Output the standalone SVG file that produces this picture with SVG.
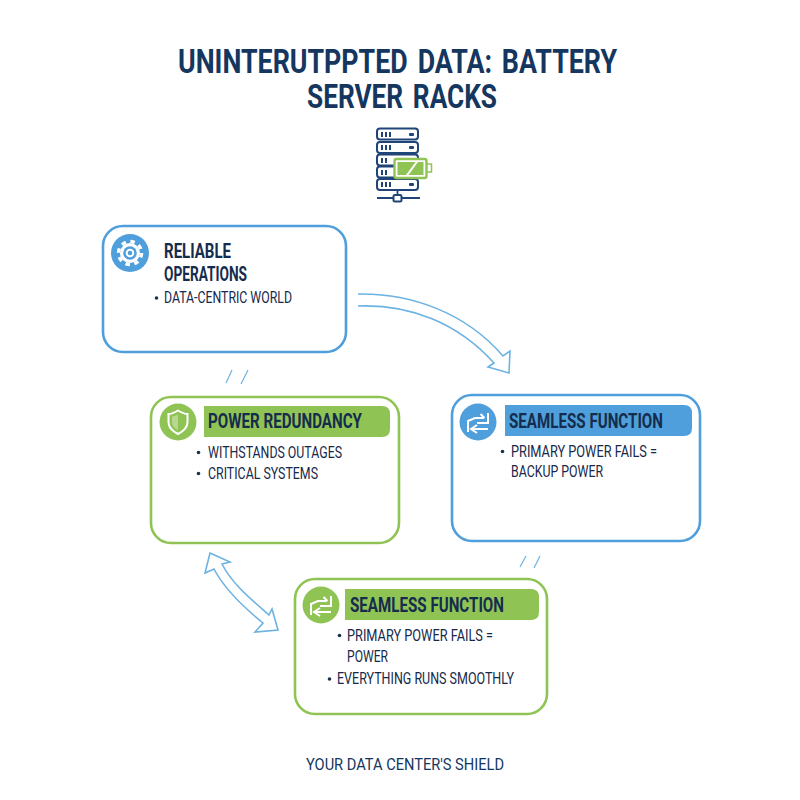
<svg xmlns="http://www.w3.org/2000/svg" width="800" height="800" viewBox="0 0 800 800">
<style>
text{font-family:"Roboto","Liberation Sans",sans-serif;fill:#1c2f4b}
.title{font-size:33px;font-weight:700;fill:#14365f;word-spacing:4px}
.head{font-size:19.500px;font-weight:700;fill:#152c4c}
.body{font-size:16.500px;font-weight:400;fill:#16294a}
.foot{font-size:16.500px;font-weight:400;fill:#14365f}
.card{fill:#fff;stroke-width:2.6}
.blue{stroke:#4f9fdc}
.green{stroke:#8fc455}
.fb{fill:#4f9fdc}
.fg{fill:#8fc455}
.ic{fill:none;stroke:#fff;stroke-width:2}
.arrow{fill:#fff;stroke:#6cb2e2;stroke-width:1.6}
.tick{fill:none;stroke:#6cb2e2;stroke-width:1.2}
.r{fill:#fff;stroke:#1f4478;stroke-width:2}
.d{fill:#1f4478}
.bullet{fill:#1c2f4b}
</style>
<defs>
<path id="swap" class="ic" d="M-10 10V-1L-3 -4H6M2.500 -8L6.500 -4M10 -9V1H-1M10 7H-6M-1 3L-7 7L-1 11"/>
</defs>
<rect width="800" height="800" fill="#fff"/>
<g id="title">
<text class="title" x="178" y="73" textLength="439" lengthAdjust="spacingAndGlyphs">UNINTERUTPPTED DATA: BATTERY</text>
<text class="title" x="307" y="108" textLength="190" lengthAdjust="spacingAndGlyphs">SERVER RACKS</text>
</g>
<g id="rack-icon">
<rect class="r" x="377" y="128.500" width="41" height="11" rx="3"/>
<rect class="r" x="377" y="142" width="41" height="11" rx="3"/>
<rect class="r" x="377" y="154.500" width="41" height="11" rx="3"/>
<rect class="r" x="377" y="166.500" width="41" height="11" rx="3"/>
<rect class="r" x="377" y="179" width="41" height="11" rx="3"/>
<g class="d">
<rect x="381" y="132" width="2" height="5"/><rect x="385" y="132" width="2" height="5"/><rect x="389" y="132" width="2" height="5"/><rect x="409" y="133" width="5" height="3" rx="1"/>
<rect x="381" y="145" width="2" height="5"/><rect x="385" y="145" width="2" height="5"/><rect x="389" y="145" width="2" height="5"/><rect x="409" y="146" width="5" height="3" rx="1"/>
<rect x="381" y="158" width="2" height="5"/><rect x="385" y="158" width="2" height="5"/>
<rect x="381" y="170" width="2" height="5"/><rect x="385" y="170" width="2" height="5"/>
<rect x="381" y="182" width="2" height="5"/><rect x="385" y="182" width="2" height="5"/><rect x="389" y="182" width="2" height="5"/><rect x="409" y="183" width="5" height="3" rx="1"/>
</g>
<path d="M397.500 190V195M377 198H420" fill="none" stroke="#1f4478" stroke-width="1.800"/>
<rect class="r" x="393.500" y="195" width="8" height="6.500" rx="1.500" stroke-width="1.600"/>
<rect x="394.500" y="159" width="32" height="19" rx="2" fill="#fff" stroke="#8fc455" stroke-width="2.400"/>
<rect x="427" y="164" width="4.500" height="8" fill="#fff" stroke="#8fc455" stroke-width="1.500"/>
<path d="M397.500 162H415.500L406 175H397.500ZM418 162H423.500V175H408.500Z" fill="#8fc455"/>
</g>
<g id="connectors">
<path class="arrow" d="M358 294C410 293 465 312 503 356L510 351L509 373L488 367L494 363C458 323 410 304 358 306"/>
<path class="arrow" d="M210 553L230 562L222 564C232 584 252 600 269 615L272 609L278 630L255 632L263 623C242 606 224 588 214 569L205 573Z"/>
<path class="tick" d="M226 383L232 370M241 384L248 370M520 567L526 556M534 568L540 556"/>
</g>
<g id="node-reliable">
<rect class="card blue" x="103" y="226" width="243" height="126" rx="20"/>
<circle class="fb" cx="130" cy="253" r="19"/>
<circle cx="130" cy="253" r="11.500" fill="none" stroke="#fff" stroke-width="3.500" stroke-dasharray="4.500 4.530"/>
<circle cx="130" cy="253" r="10" fill="#fff"/>
<circle cx="130" cy="253" r="6.800" class="fb"/>
<circle cx="130" cy="253" r="4.300" fill="#fff"/>
<circle cx="130" cy="253" r="2.300" class="fb"/>
<text class="head" x="164" y="258" textLength="67" lengthAdjust="spacingAndGlyphs">RELIABLE</text>
<text class="head" x="164" y="281" textLength="83" lengthAdjust="spacingAndGlyphs">OPERATIONS</text>
<circle class="bullet" cx="156.500" cy="298" r="1.800"/>
<text class="body" x="164" y="303" textLength="128" lengthAdjust="spacingAndGlyphs">DATA-CENTRIC WORLD</text>
</g>
<g id="node-power">
<rect class="card green" x="151" y="397" width="248" height="146" rx="20"/>
<circle class="fg" cx="178" cy="422" r="18.500"/>
<path class="ic" d="M178 410.500C173 413.500 171 414 168.500 414V422C168.500 428 173 431.500 178 434C183 431.500 187.500 428 187.500 422V414C185 414 183 413.500 178 410.500Z"/>
<path d="M178 414.500C175 416 173.500 416.500 172 416.500V422C172 426 175 428.500 178 430Z" fill="#fff" fill-opacity=".35"/>
<path d="M204 406H382Q390 406 390 414V429Q390 437 382 437H204Z" class="fg"/>
<text class="head" x="208" y="428" textLength="154" lengthAdjust="spacingAndGlyphs">POWER REDUNDANCY</text>
<circle class="bullet" cx="198.500" cy="452.500" r="1.800"/>
<text class="body" x="208" y="458" textLength="134" lengthAdjust="spacingAndGlyphs">WITHSTANDS OUTAGES</text>
<circle class="bullet" cx="198.500" cy="473.500" r="1.800"/>
<text class="body" x="208" y="479" textLength="110" lengthAdjust="spacingAndGlyphs">CRITICAL SYSTEMS</text>
</g>
<g id="node-seamless-blue">
<rect class="card blue" x="452" y="395" width="248" height="146" rx="20"/>
<circle class="fb" cx="478" cy="422" r="18.500"/>
<use href="#swap" x="478" y="422"/>
<path d="M505 405H684Q692 405 692 413V428Q692 436 684 436H505Z" class="fb"/>
<text class="head" x="509" y="428" textLength="154" lengthAdjust="spacingAndGlyphs">SEAMLESS FUNCTION</text>
<circle class="bullet" cx="502.500" cy="451.500" r="1.800"/>
<text class="body" x="511" y="457" textLength="146" lengthAdjust="spacingAndGlyphs">PRIMARY POWER FAILS =</text>
<text class="body" x="511" y="477" textLength="92" lengthAdjust="spacingAndGlyphs">BACKUP POWER</text>
</g>
<g id="node-seamless-green">
<rect class="card green" x="295" y="579" width="252" height="135" rx="20"/>
<circle class="fg" cx="321" cy="605" r="18.500"/>
<use href="#swap" x="321" y="605"/>
<path d="M345 589H531Q539 589 539 597V612Q539 620 531 620H345Z" class="fg"/>
<text class="head" x="350" y="612" textLength="154" lengthAdjust="spacingAndGlyphs">SEAMLESS FUNCTION</text>
<circle class="bullet" cx="339.500" cy="635.500" r="1.800"/>
<text class="body" x="347" y="641" textLength="146" lengthAdjust="spacingAndGlyphs">PRIMARY POWER FAILS =</text>
<text class="body" x="347" y="662" textLength="41" lengthAdjust="spacingAndGlyphs">POWER</text>
<circle class="bullet" cx="329.500" cy="679" r="1.800"/>
<text class="body" x="337" y="684" textLength="177" lengthAdjust="spacingAndGlyphs">EVERYTHING RUNS SMOOTHLY</text>
</g>
<g id="footer">
<text class="foot" x="306" y="770" textLength="198" lengthAdjust="spacingAndGlyphs">YOUR DATA CENTER'S SHIELD</text>
</g>
</svg>
